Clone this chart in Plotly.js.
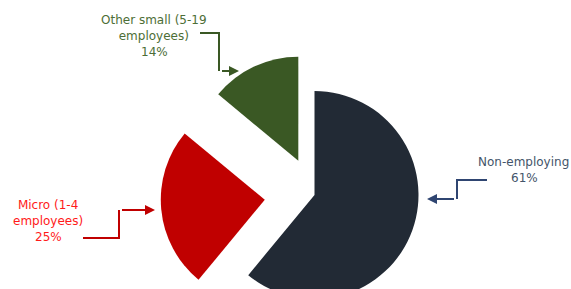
<!DOCTYPE html>
<html>
<head>
<meta charset="utf-8">
<script src="https://cdn.plot.ly/plotly-3.0.1.min.js"></script>
<style>
html, body { margin: 0; padding: 0; overflow: hidden; background: #ffffff; }
#chart { width: 571px; height: 360px; }
</style>
</head>
<body>
<div id="chart"></div>
<script>
// ---- data ----
var categories = ["Non-employing", "Micro (1-4 employees)", "Other small (5-19 employees)"];
var values = [61, 25, 14];
var sliceColors = ["#222a35", "#c00000", "#3a5824"];
var pulls = [0, 0.48, 0.365];
var labelNames = ["Non-employing", "Micro (1-4<br>employees)", "Other small (5-19<br>employees)"];
var labelPercents = ["61%", "25%", "14%"];
var labelColors = ["#44546a", "#ff1a1a", "#4d6e36"];
var lineColors = ["#2f4571", "#c00000", "#3a5824"];

// ---- layout helpers ----
var W = 571, H = 360;
function px(x) { return x / W; }
function py(y) { return 1 - y / H; }

var cx = 314.5, cy = 195, r = 104, maxPull = 0.48;
var half = r * (1 + maxPull);

var trace = {
  type: "pie",
  labels: categories,
  values: values,
  sort: false,
  direction: "clockwise",
  rotation: 0,
  pull: pulls,
  marker: { colors: sliceColors, line: { width: 0 } },
  textinfo: "none",
  hoverinfo: "label+percent",
  domain: { x: [px(cx - half), px(cx + half)], y: [py(cy + half), py(cy - half)] }
};

// label positions (pixels): name block centre, percent centre
var namePos = [[523, 162], [48, 213], [154, 28]];
var pctPos = [[524, 178], [48, 237], [154, 52]];
var connectors = [
  { pts: [[487, 180], [457, 180], [457, 199]], tip: [427, 199] },
  { pts: [[83, 238], [119, 238], [119, 210]], tip: [155, 210] },
  { pts: [[200, 33], [219, 33], [219, 71]], tip: [239, 71] }
];

var annotations = [];
var shapes = [];
for (var i = 0; i < categories.length; i++) {
  var f = { family: "DejaVu Sans, sans-serif", size: 12, color: labelColors[i] };
  annotations.push({
    xref: "paper", yref: "paper",
    x: px(namePos[i][0]), y: py(namePos[i][1]),
    xanchor: "center", yanchor: "middle", align: "center",
    text: labelNames[i], showarrow: false, font: f
  });
  annotations.push({
    xref: "paper", yref: "paper",
    x: px(pctPos[i][0]), y: py(pctPos[i][1]),
    xanchor: "center", yanchor: "middle", align: "center",
    text: labelPercents[i], showarrow: false, font: f
  });
  var c = connectors[i];
  var p = "M " + px(c.pts[0][0]) + "," + py(c.pts[0][1]);
  for (var k = 1; k < c.pts.length; k++) {
    p += " L " + px(c.pts[k][0]) + "," + py(c.pts[k][1]);
  }
  shapes.push({ type: "path", xref: "paper", yref: "paper", path: p,
    line: { color: lineColors[i], width: 2 } });
  var last = c.pts[c.pts.length - 1];
  annotations.push({
    xref: "paper", yref: "paper",
    x: px(c.tip[0]), y: py(c.tip[1]),
    ax: last[0] - c.tip[0], ay: last[1] - c.tip[1],
    showarrow: true, arrowhead: 2, arrowsize: 1, arrowwidth: 2,
    arrowcolor: lineColors[i], standoff: 0, startstandoff: 0
  });
}

var layout = {
  width: W, height: H,
  margin: { l: 0, r: 0, t: 0, b: 0 },
  paper_bgcolor: "#ffffff",
  showlegend: false,
  annotations: annotations,
  shapes: shapes
};

Plotly.newPlot("chart", [trace], layout, { displayModeBar: false, staticPlot: true });
</script>
</body>
</html>
